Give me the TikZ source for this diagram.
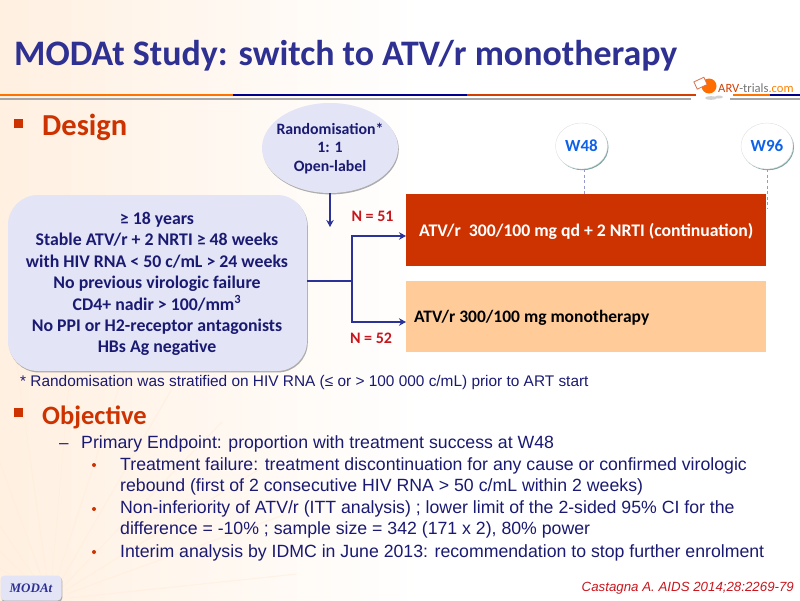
\documentclass[tikz,border=0pt]{standalone}
\usepackage{fontspec}
\setmainfont{Carlito}
\newfontfamily\bodyf{Liberation Sans}
\newfontfamily\serf{Liberation Serif}
\usetikzlibrary{arrows.meta,shadows,calc,shapes.geometric}
\definecolor{navy}{HTML}{1A1A72}
\definecolor{titleblue}{HTML}{2E3192}
\definecolor{linkblue}{HTML}{2B3399}
\definecolor{rust}{HTML}{CC3300}
\definecolor{peachbox}{HTML}{FFCC99}
\definecolor{lav}{HTML}{E3E4F6}
\definecolor{wblue}{HTML}{0F62E8}
\definecolor{nred}{HTML}{C8161D}
\newcommand{\fs}[2]{\fontsize{#1}{#2}\selectfont}
\tikzset{
  x=1pt,y=-1pt,
  softshadow/.style={drop shadow={shadow xshift=0.8pt,shadow yshift=-1.4pt,fill=black!45,opacity=0.7}},
  link/.style={draw=linkblue,line width=2.4pt},
  linkarrow/.style={link,-{Stealth[length=7pt,width=7.5pt]}},
  weekc/.style={ellipse,draw=black!12,fill=white,minimum width=52pt,minimum height=46pt,inner sep=0pt,
     font=\bfseries\fs{17}{17},text=wblue,drop shadow={shadow xshift=1pt,shadow yshift=-1.2pt,fill=teal!40!gray,opacity=0.7}},
  weekl/.style={draw=linkblue!50,line width=0.9pt,dash pattern=on 3pt off 2.5pt},
  armbox/.style={inner sep=0pt,outer sep=0pt,minimum width=360pt},
  tl/.style={anchor=base west,inner sep=0pt},
  bodyt/.style={tl,text=navy,font=\bodyf\fs{17.7}{21},align=left},
  head/.style={tl,text=rust,font=\bfseries\fs{30.5}{32}},
  nlab/.style={inner sep=0pt,text=nred,font=\bfseries\fs{16}{16}},
  lavt/.style={text=navy,font=\bfseries\fs{17.8}{21.4},align=center,inner sep=0pt}
}
\begin{document}
\begin{tikzpicture}
\useasboundingbox (0,0) rectangle (800,600);
\shade[left color=orange!12!white,right color=white] (0,0) rectangle (420,600);
\foreach \a in {-82,-70,-58,-46,-34,-20,-8,5,18,30,44,58,70,84}{
  \draw[orange!14!white,line width=1.2pt,opacity=0.55] (50,600) ++(\a-90:18) -- ++(\a-90:230);
}
% header
\node[tl,text=titleblue,font=\bfseries\fs{35.9}{38}] (title) at (14,65) {MODAt Study: switch to ATV/r monotherapy};
\fill[black!35] (0,98) rectangle (691,100);
\fill[black!35] (730,98) rectangle (800,100);
\fill[orange!90!red] (0,94.2) rectangle (233,96.4);
\fill[blue!55!black] (233,94.2) rectangle (467,96.4);
\fill[rust!85!orange] (467,94.2) rectangle (700,96.4);
\fill[orange!90!red] (733,94.2) rectangle (770,96.4);
\fill[blue!55!black] (770,94.2) rectangle (800,96.4);
% logo
\fill[white] (696,90) rectangle (730,102);
\fill[orange!85!red] (709,86) ellipse (7.5 and 7.5);
\fill[white,draw=rust!70,line width=0.8pt,rotate around={25:(701,83)}] (695,79) rectangle (706,87);
\fill[black!18] (711,98) ellipse (6 and 1.8);
\fill[black!18] (719,97) ellipse (4 and 1.5);
\node[inner sep=0pt,anchor=base west,font=\fs{12.6}{13}] (logo) at (718,92) {\textcolor{rust!85!orange}{ARV}\textcolor{black!55}{-trials}\textcolor{orange}{.com}};
% Design
\fill[rust] (14,119) rectangle (23,128);
\node[head] (design) at (42,135) {Design};
% randomisation
\node[ellipse,fill=lav,softshadow,minimum width=136pt,minimum height=90pt,inner sep=0pt] (rand) at (330,148) {};
\node[text=navy,font=\bfseries\fs{15.8}{18.6},align=center,inner sep=0pt] (randt) at (330,148.5) {Randomisation*\\1: 1\\Open-label};
\coordinate (randend) at (330,227);
\draw[linkarrow] (rand.south) -- (randend);
% criteria box
\node[rounded corners=30pt,fill=lav,softshadow,minimum width=299pt,minimum height=176pt,inner sep=0pt] (crit) at (157.5,283) {};
\node[lavt] (critt) at (157,284) {≥ 18 years\\Stable ATV/r + 2 NRTI ≥ 48 weeks\\with HIV RNA < 50 c/mL > 24 weeks\\No previous virologic failure\\CD4+ nadir > 100/mm\textsuperscript{3}\\No PPI or H2-receptor antagonists\\HBs Ag negative};
% arms
\node[armbox,fill=rust,minimum height=72pt] (arm1) at (586,230) {};
\node[armbox,fill=peachbox,minimum height=71pt] (arm2) at (586,316.5) {};
\node[tl,text=white,font=\bfseries\fs{17.7}{18}] (arm1t) at (419,236) {ATV/r\ \ 300/100 mg qd + 2 NRTI (continuation)};
\node[tl,text=black,font=\bfseries\fs{17.5}{18}] (arm2t) at (414,322) {ATV/r 300/100 mg monotherapy};
% connectors
\coordinate (split) at (352,281);
\coordinate (a1) at (406,236);
\coordinate (a2) at (406,322);
\draw[link] (crit.east |- split) -- (split);
\draw[linkarrow] (split) |- (a1);
\draw[linkarrow] (split) |- (a2);
\node[nlab] (n51) at (372.5,216) {N = 51};
\node[nlab] (n52) at (371,338.5) {N = 52};
% weeks
\node[weekc] (w48) at (581.5,146) {W48};
\node[weekc] (w96) at (767,146) {W96};
\coordinate (w48e) at (584,194);
\coordinate (w96e) at (767,208);
\draw[weekl] (w48.south -| w48e) -- (w48e);
\draw[weekl] (w96.south) -- (w96e);
% footnote
\node[tl,text=navy,font=\bodyf\fs{15.4}{16}] (foot) at (20,386) {* Randomisation was stratified on HIV RNA (≤ or > 100 000 c/mL) prior to ART start};
% Objective
\fill[rust] (14,408) rectangle (23,417);
\node[head,font=\bfseries\fs{26.5}{28}] (obj) at (42,424) {Objective};
\node[tl,text=navy,font=\bodyf\fs{17}{17}] (dash) at (59,448) {–};
\node[bodyt] (ep) at (81,448) {Primary Endpoint: proportion with treatment success at W48};
\fill[rust] (94,465) circle (2);
\fill[rust] (94,509) circle (2);
\fill[rust] (94,552) circle (2);
\node[bodyt] (b1) at (120,491) {Treatment failure: treatment discontinuation for any cause or confirmed virologic\\rebound (first of 2 consecutive HIV RNA > 50 c/mL within 2 weeks)};
\node[bodyt] (b2) at (120,534) {Non-inferiority of ATV/r (ITT analysis) ; lower limit of the 2-sided 95\% CI for the\\difference = -10\% ; sample size = 342 (171 x 2), 80\% power};
\node[bodyt] (b3) at (120,557) {Interim analysis by IDMC in June 2013: recommendation to stop further enrolment};
% footer
\node[tl,text=nred,font=\bodyf\itshape\fs{13.3}{15}] (cite) at (581.5,591) {Castagna A. AIDS 2014;28:2269-79};
\node[rounded corners=4pt,fill=lav,softshadow,minimum width=61pt,minimum height=25pt,inner sep=0pt,
  text=titleblue,font=\serf\bfseries\itshape\fs{13}{13}] (modat) at (31,588) {MODAt};
\end{tikzpicture}
\end{document}
